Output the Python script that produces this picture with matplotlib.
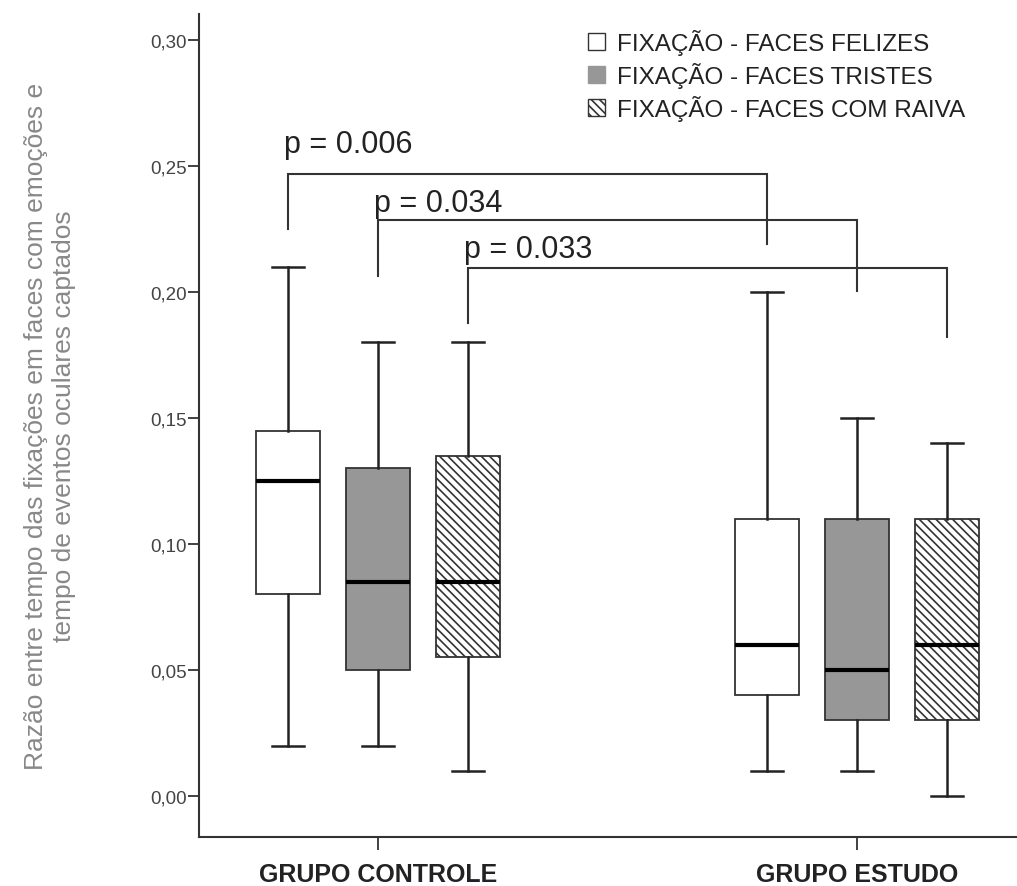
import matplotlib
matplotlib.use('Agg')
import matplotlib.pyplot as plt
from matplotlib.patches import Patch
from matplotlib.ticker import FuncFormatter

grupos = ['GRUPO CONTROLE', 'GRUPO ESTUDO']
series = ['FIXAÇÃO - FACES FELIZES', 'FIXAÇÃO - FACES TRISTES', 'FIXAÇÃO - FACES COM RAIVA']

# [minimo, Q1, mediana, Q3, maximo] para cada grupo
felizes = [[0.02, 0.08, 0.125, 0.145, 0.21], [0.01, 0.04, 0.06, 0.11, 0.20]]
tristes = [[0.02, 0.05, 0.085, 0.13, 0.18], [0.01, 0.03, 0.05, 0.11, 0.15]]
raiva = [[0.01, 0.055, 0.085, 0.135, 0.18], [0.00, 0.03, 0.06, 0.11, 0.14]]

p_valores = ['p = 0.006', 'p = 0.034', 'p = 0.033']

plt.rcParams['font.family'] = ['Liberation Sans', 'DejaVu Sans']

escuro = '#333333'
cinza = '#979797'
hachura = '\\\\\\\\'
plt.rcParams['hatch.linewidth'] = 1.2
plt.rcParams['hatch.color'] = escuro

fig = plt.figure(figsize=(10.17, 8.87), dpi=100)
ax = fig.add_axes([0.1957, 0.0552, 0.8043, 0.928])

desloc = [-0.188, 0.0, 0.188]
estilos = [dict(facecolor='white', hatch=None),
           dict(facecolor=cinza, hatch=None),
           dict(facecolor='white', hatch=hachura)]

stats, pos, estilo_box = [], [], []
for g in range(len(grupos)):
    for s, dados in enumerate([felizes, tristes, raiva]):
        lo, q1, med, q3, hi = dados[g]
        stats.append(dict(whislo=lo, q1=q1, med=med, q3=q3, whishi=hi, fliers=[]))
        pos.append(g + desloc[s])
        estilo_box.append(estilos[s])

res = ax.bxp(stats, positions=pos, widths=0.1336, capwidths=0.0668,
             patch_artist=True, showfliers=False,
             boxprops=dict(edgecolor=escuro, linewidth=1.3),
             medianprops=dict(color='black', linewidth=3),
             whiskerprops=dict(color='#222222', linewidth=1.8),
             capprops=dict(color='#222222', linewidth=1.8))
for caixa, est in zip(res['boxes'], estilo_box):
    caixa.set_facecolor(est['facecolor'])
    if est['hatch']:
        caixa.set_hatch(est['hatch'])

# colchetes de comparacao entre os grupos
alturas = [(0.225, 0.2468, 0.219), (0.2063, 0.2286, 0.2004), (0.1877, 0.2095, 0.182)]
y_texto = [0.2556, 0.2321, 0.2139]
for s in range(3):
    x1, x2 = desloc[s], 1 + desloc[s]
    y1, yh, y2 = alturas[s]
    ax.plot([x1, x1, x2, x2], [y1, yh, yh, y2], color=escuro, linewidth=1.5,
            solid_joinstyle='miter')
    ax.text(x1 - 0.008, y_texto[s], p_valores[s], fontsize=22, color='#222222',
            ha='left', va='baseline')

ax.set_xlim(-0.3737, 1.334)
ax.set_ylim(-0.0163, 0.3103)
ax.set_yticks([0, 0.05, 0.10, 0.15, 0.20, 0.25, 0.30])
ax.yaxis.set_major_formatter(FuncFormatter(lambda v, _: f'{v:.2f}'.replace('.', ',')))
ax.set_xticks([0, 1])
ax.set_xticklabels(grupos, fontsize=18, fontweight='bold', color='#222222')
ax.tick_params(axis='y', length=8, width=1.3, color=escuro, labelsize=13.5,
               labelcolor='#444444', pad=1)
ax.tick_params(axis='x', length=9, width=1.3, color=escuro, pad=9)

for lado in ['top', 'right']:
    ax.spines[lado].set_visible(False)
for lado in ['left', 'bottom']:
    ax.spines[lado].set_color(escuro)
    ax.spines[lado].set_linewidth(1.5)

ax.set_ylabel('Razão entre tempo das fixações em faces com emoções e\n'
              'tempo de eventos oculares captados',
              fontsize=19, color='#888888', linespacing=1.25)
ax.yaxis.set_label_coords(-0.15, 0.5)

handles = [Patch(facecolor='white', edgecolor=escuro, linewidth=1),
           Patch(facecolor=cinza, edgecolor=cinza, linewidth=1),
           Patch(facecolor='white', edgecolor=escuro, linewidth=1, hatch=hachura)]
ax.legend(handles, series, loc='upper left', bbox_to_anchor=(0.578, 0.966),
          bbox_transform=fig.transFigure, frameon=False, fontsize=17.5,
          handlelength=0.7, handleheight=0.7, handletextpad=0.5,
          labelspacing=0.28, borderpad=0, borderaxespad=0, labelcolor='#222222')

fig.savefig('out.png', dpi=100)
